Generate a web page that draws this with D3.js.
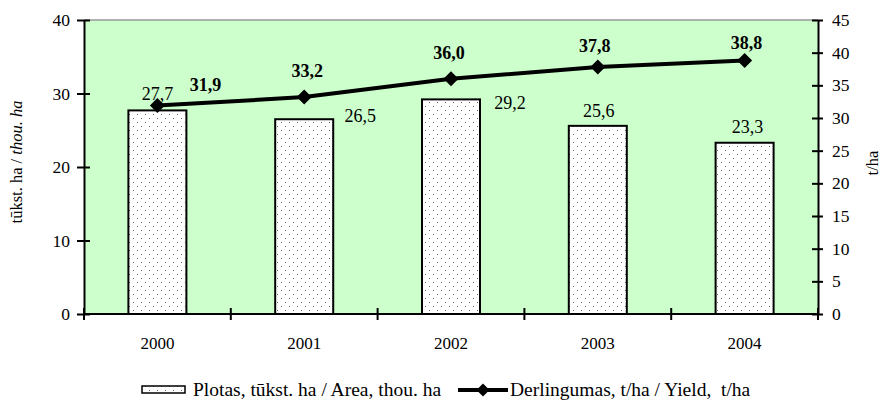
<!DOCTYPE html>
<html>
<head>
<meta charset="utf-8">
<script src="https://cdn.jsdelivr.net/npm/d3@7"></script>
<style>
  body { margin: 0; background: #fff; }
  svg { display: block; font-family: "Liberation Serif", "Times New Roman", serif; }
</style>
</head>
<body>
<svg width="882" height="402"></svg>
<script>
// chart data
var years = ["2000", "2001", "2002", "2003", "2004"];
var area = [27.7, 26.5, 29.2, 25.6, 23.3];      // thou. ha, left axis
var yieldVals = [31.9, 33.2, 36.0, 37.8, 38.8]; // t/ha, right axis
var leftTicks = [0, 10, 20, 30, 40];
var rightTicks = [0, 5, 10, 15, 20, 25, 30, 35, 40, 45];

// hand placed label nudges (like the original), pixels from the mark
var areaNudge = [[0, -10], [56, 3], [59, 10], [1, -9], [3, -10]];
var yieldNudge = [[48, -15], [3, -20], [-2, -20], [-3, -15], [2, -12]];

var fmt = function(v) { return v.toFixed(1).replace(".", ","); };

var svg = d3.select("svg");
// plot box (window.top is reserved, so no plain "top")
var pL = 84, pR = 818, pT = 20, pB = 314;

var x = d3.scaleBand().domain(years).range([pL, pR]);
var yL = d3.scaleLinear().domain([0, 40]).range([pB, pT]);
var yR = d3.scaleLinear().domain([0, 45]).range([pB, pT]);

// dotted fill like the excel pattern
var defs = svg.append("defs");
var pat = defs.append("pattern")
	.attr("id", "dots")
	.attr("patternUnits", "userSpaceOnUse")
	.attr("width", 8).attr("height", 8);
pat.append("rect").attr("width", 8).attr("height", 8).attr("fill", "#fff");
pat.append("rect").attr("x", 1).attr("y", 2).attr("width", 1).attr("height", 1).attr("fill", "#666");
pat.append("rect").attr("x", 5).attr("y", 6).attr("width", 1).attr("height", 1).attr("fill", "#666");

// plot background
svg.append("rect")
	.attr("x", pL).attr("y", pT)
	.attr("width", pR - pL).attr("height", pB - pT)
	.attr("fill", "#ccffcc");
svg.append("line")
	.attr("x1", pL).attr("x2", pR).attr("y1", pT).attr("y2", pT)
	.attr("stroke", "#999").attr("stroke-width", 1.5);

// bars
var barW = 58;
svg.selectAll("rect.bar").data(area).enter()
	.append("rect")
	.attr("class", "bar")
	.attr("x", function(d, i) { return x(years[i]) + x.bandwidth() / 2 - barW / 2; })
	.attr("y", function(d) { return yL(d); })
	.attr("width", barW)
	.attr("height", function(d) { return yL(0) - yL(d); })
	.attr("fill", "url(#dots)")
	.attr("stroke", "#000")
	.attr("stroke-width", 2);

// axes
function styleAxis(g) {
	g.selectAll("path.domain").attr("stroke", "#000").attr("stroke-width", 2);
	g.selectAll(".tick line").attr("stroke", "#000").attr("stroke-width", 2);
	g.selectAll("text").attr("font-size", 17.5).attr("font-family", "Liberation Serif").attr("fill", "#000");
}

var gl = svg.append("g").attr("transform", "translate(" + pL + ",0)")
	.call(d3.axisLeft(yL).tickValues(leftTicks).tickSize(6).tickSizeOuter(0).tickPadding(8));
gl.selectAll(".tick line").attr("x2", 6).attr("x1", -7);
styleAxis(gl);

var gr = svg.append("g").attr("transform", "translate(" + pR + ",0)")
	.call(d3.axisRight(yR).tickValues(rightTicks).tickSize(6).tickSizeOuter(0).tickPadding(8));
gr.selectAll(".tick line").attr("x1", -6).attr("x2", 5);
styleAxis(gr);

// x axis: ticks between categories, labels centered
var gx = svg.append("g").attr("transform", "translate(0," + pB + ")");
gx.append("line").attr("x1", pL - 1).attr("x2", pR + 1)
	.attr("stroke", "#000").attr("stroke-width", 2);
var bounds = years.map(function(d) { return x(d); }).concat([pR]);
gx.selectAll("line.tk").data(bounds).enter()
	.append("line").attr("class", "tk")
	.attr("x1", function(d) { return d; }).attr("x2", function(d) { return d; })
	.attr("y1", -6).attr("y2", 6)
	.attr("stroke", "#000").attr("stroke-width", 2);
gx.selectAll("text").data(years).enter()
	.append("text")
	.attr("x", function(d) { return x(d) + x.bandwidth() / 2; })
	.attr("y", 35)
	.attr("text-anchor", "middle")
	.attr("font-size", 17)
	.text(function(d) { return d; });

// yield line
var pts = yieldVals.map(function(v, i) { return [x(years[i]) + x.bandwidth() / 2, yR(v)]; });
svg.append("path")
	.attr("d", d3.line()(pts))
	.attr("fill", "none")
	.attr("stroke", "#000")
	.attr("stroke-width", 4)
	.attr("stroke-linejoin", "round");

function diamond(cx, cy, r) {
	return "M" + cx + "," + (cy - r) + "L" + (cx + r) + "," + cy + "L" + cx + "," + (cy + r) + "L" + (cx - r) + "," + cy + "Z";
}
svg.selectAll("path.mk").data(pts).enter()
	.append("path").attr("class", "mk")
	.attr("d", function(p) { return diamond(p[0], p[1], 7.5); })
	.attr("fill", "#000");

// labels
svg.selectAll("text.alab").data(area).enter()
	.append("text").attr("class", "alab")
	.attr("x", function(d, i) { return x(years[i]) + x.bandwidth() / 2 + areaNudge[i][0]; })
	.attr("y", function(d, i) { return yL(d) + areaNudge[i][1]; })
	.attr("text-anchor", "middle")
	.attr("font-size", 18)
	.text(fmt);

svg.selectAll("text.ylab").data(yieldVals).enter()
	.append("text").attr("class", "ylab")
	.attr("x", function(d, i) { return pts[i][0] + yieldNudge[i][0]; })
	.attr("y", function(d, i) { return pts[i][1] + yieldNudge[i][1]; })
	.attr("text-anchor", "middle")
	.attr("font-size", 18)
	.attr("font-weight", "bold")
	.text(fmt);

// axis titles
var tl = svg.append("text")
	.attr("transform", "translate(22,162) rotate(-90)")
	.attr("text-anchor", "middle")
	.attr("font-size", 16.5);
tl.append("tspan").text("tūkst. ha / ");
tl.append("tspan").attr("font-style", "italic").text("thou. ha");

svg.append("text")
	.attr("transform", "translate(878,163) rotate(-90)")
	.attr("text-anchor", "middle")
	.attr("font-size", 16.5)
	.text("t/ha");

// legend
var lg = svg.append("g");
lg.append("rect").attr("x", 142).attr("y", 386).attr("width", 43).attr("height", 7)
	.attr("fill", "url(#dots)").attr("stroke", "#000").attr("stroke-width", 1.5);
lg.append("text").attr("x", 193).attr("y", 396).attr("font-size", 19.5)
	.text("Plotas, tūkst. ha / Area, thou. ha");
lg.append("line").attr("x1", 458).attr("x2", 508).attr("y1", 390).attr("y2", 390)
	.attr("stroke", "#000").attr("stroke-width", 4);
lg.append("path").attr("d", diamond(483, 390, 6.5)).attr("fill", "#000");
lg.append("text").attr("x", 510).attr("y", 396).attr("font-size", 19.5)
	.text("Derlingumas, t/ha / Yield,  t/ha")
	.style("white-space", "pre");
</script>
</body>
</html>
